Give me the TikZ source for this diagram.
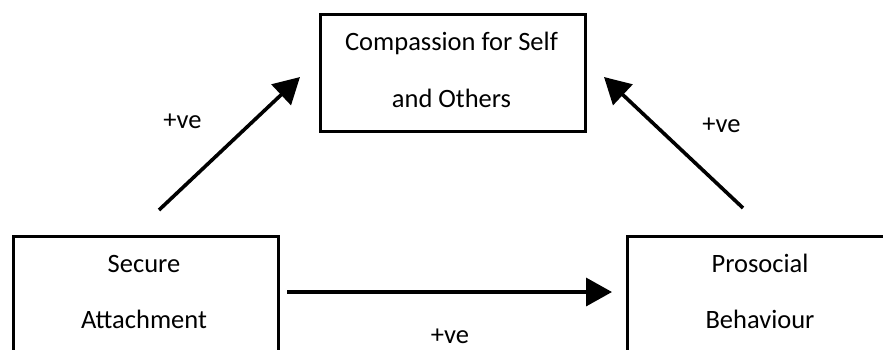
\documentclass[tikz,border=0pt]{standalone}
\usepackage{fontspec}
\setmainfont{Carlito}
\usetikzlibrary{arrows.meta}
\tikzset{
  boxstyle/.style={draw=black, line width=3pt, fill=none, inner sep=0pt},
  lbl/.style={font=\fontsize{26.5}{31}\selectfont, inner sep=0pt, text=black},
  conn/.style={draw=black, line width=3.6pt, -{Triangle[length=26pt,width=28pt]}},
}
\begin{document}
\begin{tikzpicture}[x=1pt,y=-1pt]
\useasboundingbox (0,0) rectangle (883,349);
\clip (0,0) rectangle (883,349);
% boxes
\node[boxstyle, minimum width=265pt, minimum height=117pt, anchor=north west] (comp) at (319,13) {};
\node[boxstyle, minimum width=265.5pt, minimum height=160pt, anchor=north west] (sec) at (11.5,234.5) {};
\node[boxstyle, minimum width=268pt, minimum height=160pt, anchor=north west] (pro) at (626,235) {};
% texts
\node[lbl, anchor=base] (comp1) at (451.5,50) {Compassion for Self};
\node[lbl, anchor=base] (comp2) at (451.5,107) {and Others};
\node[lbl, anchor=base] (sec1) at (144,272) {Secure};
\node[lbl, anchor=base] (sec2) at (144,328) {Attachment};
\node[lbl, anchor=base] (pro1) at (760,272) {Prosocial};
\node[lbl, anchor=base] (pro2) at (760,328) {Behaviour};
\node[lbl, anchor=base] (l1) at (182.5,128) {+ve};
\node[lbl, anchor=base] (l2) at (721.5,132) {+ve};
\node[lbl, anchor=base, text depth=0pt] (l3) at (450,343) {+ve};
% connector ends
\coordinate (a1) at (159,210);
\coordinate (a2) at (300,77);
\coordinate (b1) at (743,208);
\coordinate (b2) at (604,77);
\coordinate (c1) at (287,292);
\coordinate (c2) at (612,292);
\draw[conn] (a1) -- (a2);
\draw[conn] (b1) -- (b2);
\draw[conn] (c1) -- (c2);
\end{tikzpicture}
\end{document}
